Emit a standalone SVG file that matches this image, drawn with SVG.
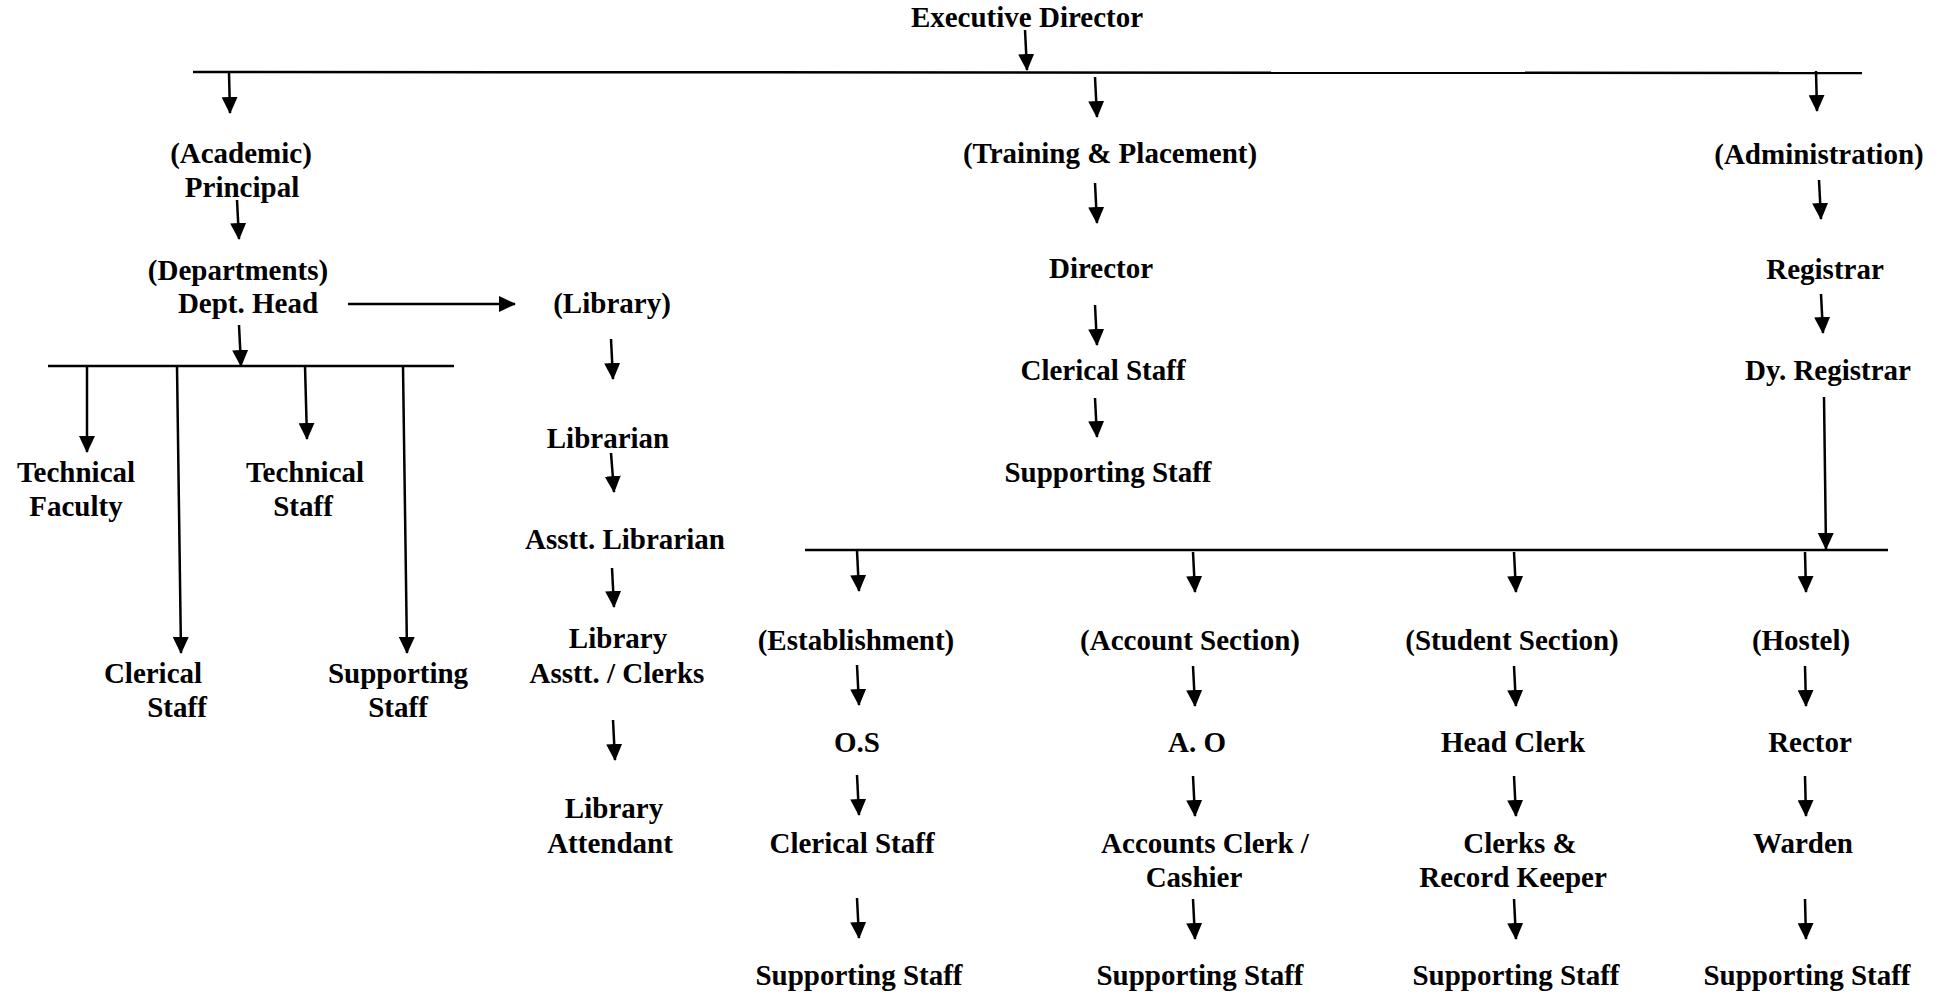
<svg xmlns="http://www.w3.org/2000/svg" width="1949" height="996" viewBox="0 0 1949 996">
<style>
text{font-family:"Liberation Serif","Times New Roman",serif;font-weight:bold;font-size:29px;text-anchor:middle;fill:#000}
.ln{stroke:#000;stroke-width:2.5;fill:none}
.ar{stroke:#000;stroke-width:2.5;fill:none;marker-end:url(#ah)}
</style>
<defs>
<marker id="ah" viewBox="0 0 17 16" refX="16" refY="8" markerWidth="17" markerHeight="16" markerUnits="userSpaceOnUse" orient="auto">
<path d="M0,0 L17,8 L0,16 z" fill="#000"/>
</marker>
</defs>
<rect width="1949" height="996" fill="#fff"/>
<g id="connectors">
<path class="ln" d="M193,72 L1862,73"/>
<path class="ar" d="M1025,30 L1027,70"/>
<path class="ar" d="M229,73 L230,113"/>
<path class="ar" d="M1095,77 L1097,117"/>
<path class="ar" d="M1816,71 L1817,111"/>
<path class="ar" d="M237,200 L239,239"/>
<path class="ar" d="M239,325 L241,366"/>
<path class="ar" d="M348,304 L515,304"/>
<path class="ln" d="M48,366 L454,366"/>
<path class="ar" d="M87,366 L87,452"/>
<path class="ar" d="M177,366 L181,653"/>
<path class="ar" d="M305,366 L307,439"/>
<path class="ar" d="M403,366 L407,653"/>
<path class="ar" d="M611,339 L613,379"/>
<path class="ar" d="M611,453 L614,492"/>
<path class="ar" d="M612,568 L614,607"/>
<path class="ar" d="M613,720 L615,760"/>
<path class="ar" d="M1095,183 L1097,223"/>
<path class="ar" d="M1095,305 L1097,345"/>
<path class="ar" d="M1095,398 L1097,437"/>
<path class="ar" d="M1819,180 L1821,219"/>
<path class="ar" d="M1821,294 L1823,333"/>
<path class="ar" d="M1824,397 L1826,549"/>
<path class="ln" d="M805,550 L1888,550"/>
<path class="ar" d="M857,551 L859,591"/>
<path class="ar" d="M1193,552 L1195,592"/>
<path class="ar" d="M1514,552 L1516,592"/>
<path class="ar" d="M1805,552 L1806,592"/>
<path class="ar" d="M857,665 L859,705"/>
<path class="ar" d="M857,775 L859,815"/>
<path class="ar" d="M857,898 L859,938"/>
<path class="ar" d="M1193,666 L1195,706"/>
<path class="ar" d="M1193,776 L1195,816"/>
<path class="ar" d="M1193,899 L1195,939"/>
<path class="ar" d="M1514,666 L1516,706"/>
<path class="ar" d="M1514,776 L1516,816"/>
<path class="ar" d="M1514,899 L1516,939"/>
<path class="ar" d="M1805,666 L1806,706"/>
<path class="ar" d="M1805,776 L1806,816"/>
<path class="ar" d="M1805,899 L1806,939"/>
</g>
<g id="executive-director"><text x="1027" y="27">Executive Director</text></g>
<g id="academic"><text x="241" y="163">(Academic)</text><text x="242" y="197">Principal</text></g>
<g id="departments"><text x="238" y="280">(Departments)</text><text x="248" y="313">Dept. Head</text></g>
<g id="technical-faculty"><text x="76" y="482">Technical</text><text x="76" y="516">Faculty</text></g>
<g id="technical-staff"><text x="305" y="482">Technical</text><text x="303" y="516">Staff</text></g>
<g id="clerical-staff-dept"><text x="153" y="683">Clerical</text><text x="177" y="717">Staff</text></g>
<g id="supporting-staff-dept"><text x="398" y="683">Supporting</text><text x="398" y="717">Staff</text></g>
<g id="library"><text x="612" y="313">(Library)</text></g>
<g id="librarian"><text x="608" y="448">Librarian</text></g>
<g id="asstt-librarian"><text x="625" y="549">Asstt. Librarian</text></g>
<g id="library-asstt"><text x="618" y="648">Library</text><text x="617" y="683">Asstt. / Clerks</text></g>
<g id="library-attendant"><text x="614" y="818">Library</text><text x="610" y="853">Attendant</text></g>
<g id="training"><text x="1110" y="163">(Training &amp; Placement)</text></g>
<g id="director"><text x="1101" y="278">Director</text></g>
<g id="clerical-staff-tp"><text x="1103" y="380">Clerical Staff</text></g>
<g id="supporting-staff-tp"><text x="1108" y="482">Supporting Staff</text></g>
<g id="administration"><text x="1819" y="164">(Administration)</text></g>
<g id="registrar"><text x="1825" y="279">Registrar</text></g>
<g id="dy-registrar"><text x="1828" y="380">Dy. Registrar</text></g>
<g id="establishment"><text x="856" y="650">(Establishment)</text></g>
<g id="os"><text x="857" y="752">O.S</text></g>
<g id="clerical-staff-est"><text x="852" y="853">Clerical Staff</text></g>
<g id="supporting-staff-est"><text x="859" y="985">Supporting Staff</text></g>
<g id="account-section"><text x="1190" y="650">(Account Section)</text></g>
<g id="ao"><text x="1197" y="752">A. O</text></g>
<g id="accounts-clerk"><text x="1205" y="853">Accounts Clerk /</text><text x="1194" y="887">Cashier</text></g>
<g id="supporting-staff-acc"><text x="1200" y="985">Supporting Staff</text></g>
<g id="student-section"><text x="1512" y="650">(Student Section)</text></g>
<g id="head-clerk"><text x="1513" y="752">Head Clerk</text></g>
<g id="clerks-record"><text x="1520" y="853">Clerks &amp;</text><text x="1513" y="887">Record Keeper</text></g>
<g id="supporting-staff-stu"><text x="1516" y="985">Supporting Staff</text></g>
<g id="hostel"><text x="1801" y="650">(Hostel)</text></g>
<g id="rector"><text x="1810" y="752">Rector</text></g>
<g id="warden"><text x="1803" y="853">Warden</text></g>
<g id="supporting-staff-hos"><text x="1807" y="985">Supporting Staff</text></g>
</svg>
